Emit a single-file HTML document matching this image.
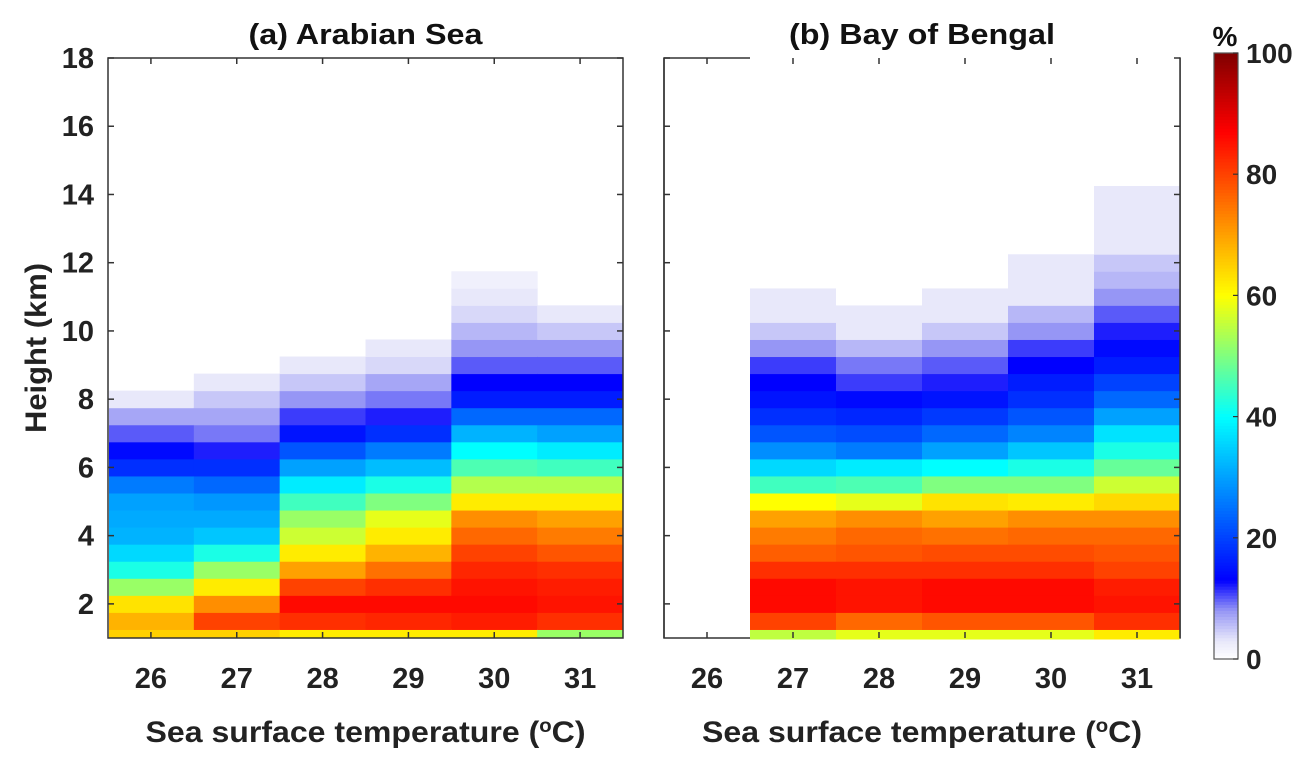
<!DOCTYPE html>
<html><head><meta charset="utf-8"><title>Height vs SST heatmaps</title>
<style>
html,body{margin:0;padding:0;background:#fff;}
svg{display:block;font-family:"Liberation Sans",Arial,sans-serif;font-weight:bold;}
</style></head>
<body>
<svg id="chart" width="1311" height="764" viewBox="0 0 1311 764" xmlns="http://www.w3.org/2000/svg"></svg>
<script>
// ---- data ----
const sstCategories = [26, 27, 28, 29, 30, 31];
const yTicks = [2, 4, 6, 8, 10, 12, 14, 16, 18];
const cbTicks = [0, 20, 40, 60, 80, 100];
// bin 0 = 1.00-1.25 km; bin k>=1 = [1.25+0.5(k-1), 1.75+0.5(k-1)] km; values in %
const arabian26 = [65,68,63,52,42,36,32,31,30,26,18,14,10,7,3];
const arabian27 = [65,80,72,62,52,42,34,31,29,24,18,12,9,7,5,3];
const arabian28 = [62,82,86,80,70,62,56,52,45,38,30,22,15,11,8,5,3];
const arabian29 = [62,83,86,82,75,68,62,58,50,42,33,26,18,12,9,7,4,3];
const arabian30 = [62,84,86,85,83,80,76,72,62,54,46,40,32,24,16,13,10,8,6,4,3,2];
const arabian31 = [52,82,85,84,82,78,74,70,62,54,45,38,30,24,16,13,10,8,5,3];
const bengal26 = [];
const bengal27 = [55,80,86,86,82,77,74,70,60,45,36,28,22,18,15,13,11,8,5,3,3];
const bengal28 = [58,76,85,85,82,78,76,72,58,46,38,26,21,17,14,11,9,6,3,3];
const bengal29 = [58,78,86,86,82,79,75,70,63,50,40,30,24,19,15,12,10,8,5,3,3];
const bengal30 = [58,78,86,86,82,79,76,72,62,50,42,34,27,22,18,16,13,11,8,6,3,3,3];
const bengal31 = [62,82,85,84,80,78,76,72,64,56,48,42,37,30,24,20,16,14,12,10,8,6,5,3,3,3,3];

const arabianSeries = [arabian26, arabian27, arabian28, arabian29, arabian30, arabian31];
const bengalSeries = [bengal26, bengal27, bengal28, bengal29, bengal30, bengal31];

// ---- helpers ----
const NS = "http://www.w3.org/2000/svg";
const svg = document.getElementById('chart');
function mk(tag, attrs, parent) {
  const e = document.createElementNS(NS, tag);
  for (const k in attrs) e.setAttribute(k, attrs[k]);
  (parent || svg).appendChild(e);
  return e;
}
const stops = [[0,255,255,255],[3,232,232,250],[8,150,150,245],[13,0,0,255],[40,0,255,255],[60,255,255,0],[87,255,0,0],[100,128,0,0]];
function cmap(v) {
  v = Math.max(0, Math.min(100, v));
  for (let i = 1; i < stops.length; i++) {
    if (v <= stops[i][0]) {
      const a = stops[i-1], b = stops[i], t = (v - a[0]) / (b[0] - a[0]);
      const c = [1,2,3].map(j => Math.round(a[j] + (b[j]-a[j]) * t));
      return `rgb(${c[0]},${c[1]},${c[2]})`;
    }
  }
  return 'rgb(128,0,0)';
}
const Y0 = 58, Y1 = 638, HMIN = 1, HMAX = 18;
function yScale(h) { return Y0 + (HMAX - h) * (Y1 - Y0) / (HMAX - HMIN); }
function binLow(k) { return k === 0 ? 1 : 1.25 + 0.5 * (k - 1); }
function binHigh(k) { return k === 0 ? 1.25 : 1.75 + 0.5 * (k - 1); }

function panel(name, left, right, series, title, titleLen, showYLabels, coverFrame) {
  const g = mk('g', {});
  
  
  const xScale = s => left + (s - 25.5) * (right - left) / 6;
  const frameColor = '#333';
  if (coverFrame) {
    const fr = mk('rect', {x: left, y: Y0, width: right - left, height: Y1 - Y0, fill: 'none', stroke: frameColor, 'stroke-width': 1.5}, g);
    
    
  }
  series.forEach((vals, i) => {
    const xa = xScale(sstCategories[i] - 0.5), xb = xScale(sstCategories[i] + 0.5);
    const xl = i === 0 ? xa + 1 : xa, xr = i === series.length - 1 ? xb - 1 : xb;
    vals.forEach((v, k) => {
      const ya = yScale(binHigh(k)), yb = yScale(binLow(k));
      const r = mk('rect', {x: xl, y: ya, width: xr - xl + 0.5, height: yb - ya + (k === 0 && coverFrame ? 1.5 : 0.5), fill: cmap(v)}, g);
      
      
    });
    if (coverFrame && vals.length) {
      const topH = binHigh(vals.length - 1);
      const w = mk('rect', {x: xl, y: Y0 - 1.5, width: xr - xl + 0.5, height: yScale(topH) - Y0 + 1.5, fill: '#fff'}, g);
      
      
    }
  });
  if (!coverFrame) {
    const fr = mk('rect', {x: left, y: Y0, width: right - left, height: Y1 - Y0, fill: 'none', stroke: frameColor, 'stroke-width': 1.5}, g);
    
    
  } else {
    const l = mk('line', {x1: left, y1: Y0, x2: left, y2: Y1, stroke: frameColor, 'stroke-width': 1.5}, g);
    
    
    const rl = mk('line', {x1: right, y1: Y0, x2: right, y2: Y1, stroke: frameColor, 'stroke-width': 1.5}, g);
    
    
  }
  yTicks.forEach(t => {
    const y = yScale(t);
    mk('line', {x1: left, y1: y, x2: left + 6, y2: y, stroke: frameColor, 'stroke-width': 1.5}, g);
    mk('line', {x1: right, y1: y, x2: right - 6, y2: y, stroke: frameColor, 'stroke-width': 1.5}, g);
    if (showYLabels) {
      const tx = mk('text', {x: left - 14, y: y + 10, 'text-anchor': 'end', 'font-size': 29, fill: '#222'}, g);
      tx.textContent = t;
      
      
    }
  });
  sstCategories.forEach(s => {
    const x = xScale(s);
    mk('line', {x1: x, y1: Y1, x2: x, y2: Y1 - 6, stroke: frameColor, 'stroke-width': 1.5}, g);
    mk('line', {x1: x, y1: Y0, x2: x, y2: Y0 + 6, stroke: frameColor, 'stroke-width': 1.5}, g);
    const tx = mk('text', {x: x, y: 688, 'text-anchor': 'middle', 'font-size': 29, fill: '#222'}, g);
    tx.textContent = s;
    
    
  });
  const tt = mk('text', {x: (left + right) / 2, y: 44, 'text-anchor': 'middle', 'font-size': 29, fill: '#111', textLength: titleLen, lengthAdjust: 'spacingAndGlyphs'}, g);
  tt.textContent = title;
  
  
  const xt = mk('text', {x: (left + right) / 2, y: 742, 'text-anchor': 'middle', 'font-size': 30, fill: '#222', textLength: 440, lengthAdjust: 'spacingAndGlyphs'}, g);
  xt.innerHTML = 'Sea surface temperature (<tspan baseline-shift="super" font-size="19">o</tspan>C)';
  
  
}

panel('arabian-sea-panel', 108, 623, arabianSeries, '(a) Arabian Sea', 234, true, false);
panel('bay-of-bengal-panel', 664, 1180, bengalSeries, '(b) Bay of Bengal', 266, false, true);

const yt = mk('text', {x: 0, y: 0, transform: 'translate(46,348) rotate(-90)', 'text-anchor': 'middle', 'font-size': 30, fill: '#222', textLength: 170, lengthAdjust: 'spacingAndGlyphs'});
yt.textContent = 'Height (km)';



// colorbar
const CB_X = 1214, CB_W = 24, CB_T = 53, CB_B = 659;
const cbY = v => CB_B - v * (CB_B - CB_T) / 100;
const cb = mk('g', {});


for (let v = 0; v < 100; v += 0.5) {
  mk('rect', {x: CB_X, y: cbY(v + 0.5), width: CB_W, height: (CB_B - CB_T) / 200 + 0.4, fill: cmap(v + 0.25)}, cb);
}
mk('rect', {x: CB_X, y: CB_T, width: CB_W, height: CB_B - CB_T, fill: 'none', stroke: '#555', 'stroke-width': 1.2}, cb);
cbTicks.forEach(t => {
  const y = cbY(t);
  mk('line', {x1: CB_X + CB_W - 5, y1: y, x2: CB_X + CB_W, y2: y, stroke: '#333', 'stroke-width': 1.2}, cb);
  const tx = mk('text', {x: 1246, y: y + 10, 'font-size': 28, fill: '#222'}, cb);
  tx.textContent = t;
  
  
});
const pc = mk('text', {x: 1225, y: 46, 'text-anchor': 'middle', 'font-size': 28, fill: '#111'});
pc.textContent = '%';


</script>
</body></html>
